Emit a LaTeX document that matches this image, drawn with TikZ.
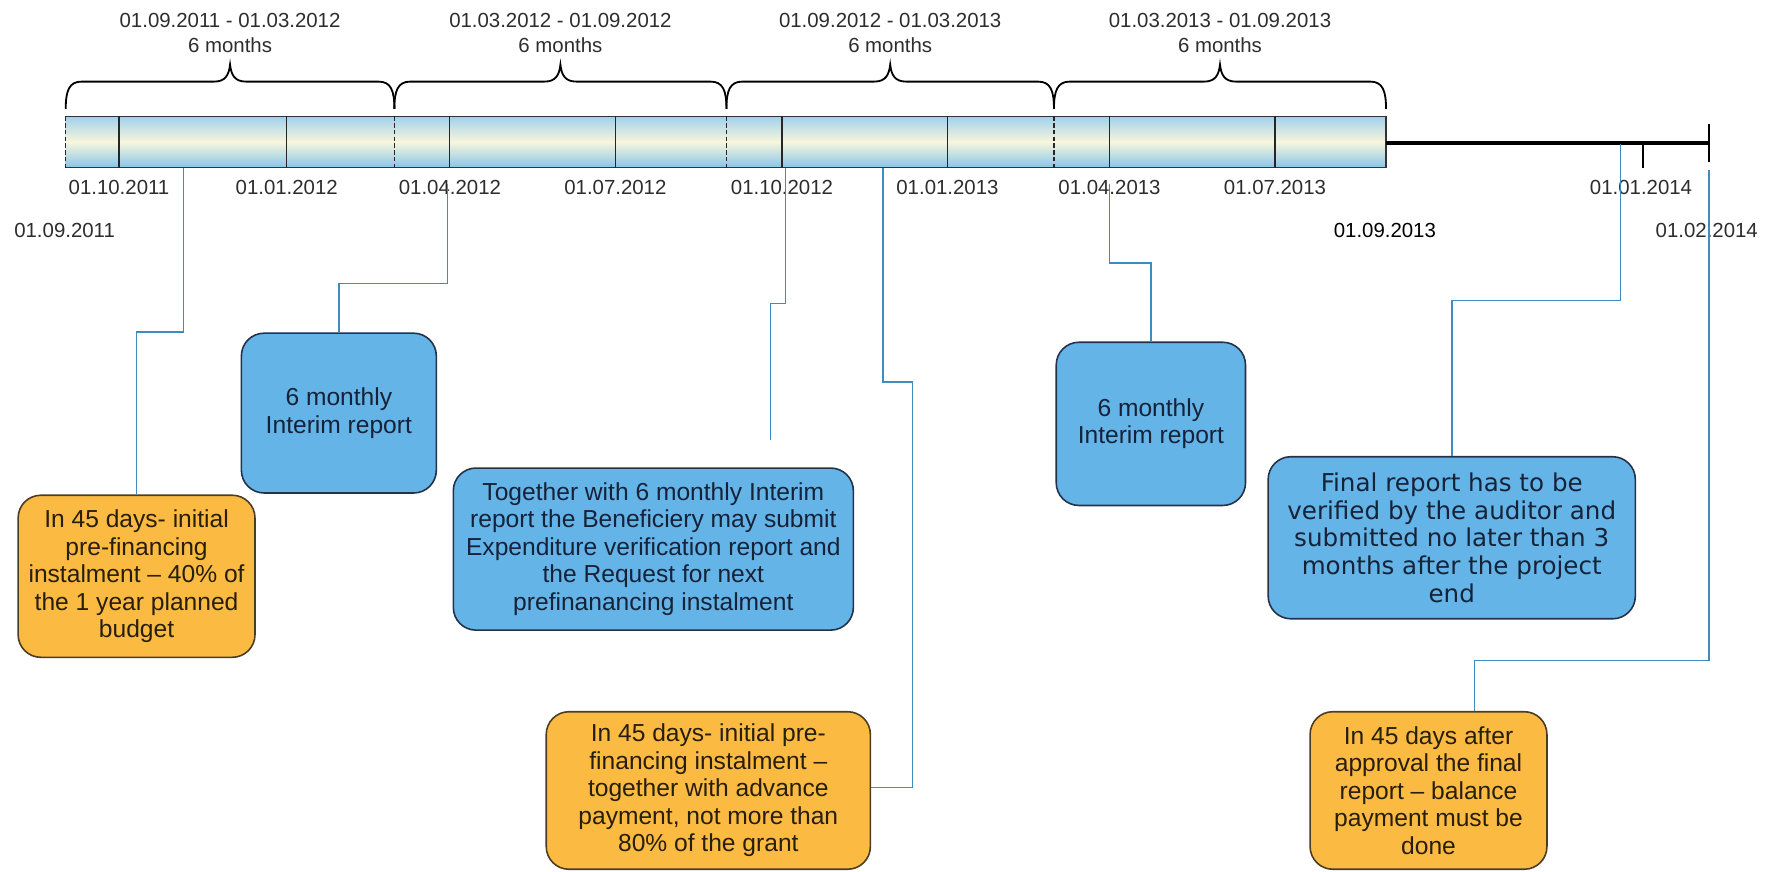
\documentclass[tikz,border=0pt]{standalone}
\usepackage{fontspec}
\setmainfont{Liberation Sans}
\newfontfamily\dvsfont{DejaVu Sans}
\usetikzlibrary{calc}
\definecolor{boxblue}{RGB}{100,180,232}
\definecolor{boxorange}{RGB}{251,187,66}
\definecolor{blueedge}{RGB}{35,50,75}
\definecolor{orangeedge}{RGB}{75,60,35}
\definecolor{conncol}{RGB}{62,140,192}
\definecolor{bartop}{RGB}{160,208,236}
\definecolor{barmid}{RGB}{248,246,220}
\definecolor{barbot}{RGB}{135,196,234}
\definecolor{bluetext}{RGB}{22,34,56}
\definecolor{orangetext}{RGB}{40,30,12}
\definecolor{datetext}{RGB}{45,45,45}
\newcommand{\tlbrace}[2]{%
  \draw[bracestyle] (#1,96) .. controls (#1,80) and ({#1+3},72) .. ({#1+14},72)
    -- ({(#1+#2)/2-14},72) .. controls ({(#1+#2)/2-4},72) and ({(#1+#2)/2-1},66) .. ({(#1+#2)/2},57)
    .. controls ({(#1+#2)/2+1},66) and ({(#1+#2)/2+4},72) .. ({(#1+#2)/2+14},72)
    -- ({#2-14},72) .. controls ({#2-3},72) and (#2,80) .. (#2,96);}
\begin{document}
\begin{tikzpicture}[x=1pt,y=-1pt,
  boxfont/.style={font=\fontsize{21.7}{24.3}\selectfont},
  bluebox/.style={draw=blueedge, fill=boxblue, line width=1.4pt, rounded corners=20pt,
    text=bluetext, align=center, inner sep=0pt, boxfont},
  orangebox/.style={draw=orangeedge, fill=boxorange, line width=1.4pt, rounded corners=20pt,
    text=orangetext, align=center, inner sep=0pt, boxfont},
  datelbl/.style={font=\fontsize{18}{22}\selectfont, text=datetext, inner sep=0pt, align=center},
  conn/.style={draw=conncol, line width=1.3pt},
  bracestyle/.style={draw=black, line width=1.6pt},
  divider/.style={draw=black!85, line width=1pt},
  dashdiv/.style={divider, dash pattern=on 4pt off 2pt}]
\useasboundingbox (0,0) rectangle (1568,769);

% braces and period labels
\tlbrace{58}{348}
\tlbrace{348}{641}
\tlbrace{641}{930}
\tlbrace{930}{1223}
\node[datelbl] (p1) at (203,29) {01.09.2011 - 01.03.2012\\6 months};
\node[datelbl] (p2) at (494.5,29) {01.03.2012 - 01.09.2012\\6 months};
\node[datelbl] (p3) at (785.5,29) {01.09.2012 - 01.03.2013\\6 months};
\node[datelbl] (p4) at (1076.5,29) {01.03.2013 - 01.09.2013\\6 months};

% timeline bar
\shade[top color=bartop, bottom color=barbot, middle color=barmid] (58,102.5) rectangle (1223,148);
\draw[black!80, line width=1pt] (58,102.5) -- (1223,102.5) -- (1223,148) -- (58,148);
\draw[dashdiv] (58,102.5) -- (58,148);
\foreach \x in {105,253,397,543,690,836,979,1125} \draw[divider] (\x,102.5) -- (\x,148);
\foreach \x in {348,641,930} \draw[dashdiv] (\x,102.5) -- (\x,148);
\draw[line width=3.5pt] (1223,126) -- (1508,126);
\draw[line width=1.6pt] (1508,109) -- (1508,143);
\draw[line width=1.6pt] (1450,126) -- (1450,148);

% date labels
\node[datelbl] (d1) at (105,165) {01.10.2011};
\node[datelbl] (d2) at (253,165) {01.01.2012};
\node[datelbl] (d3) at (397,165) {01.04.2012};
\node[datelbl] (d4) at (543,165) {01.07.2012};
\node[datelbl] (d5) at (690,165) {01.10.2012};
\node[datelbl] (d6) at (836,165) {01.01.2013};
\node[datelbl] (d7) at (979,165) {01.04.2013};
\node[datelbl] (d8) at (1125,165) {01.07.2013};
\node[datelbl] (d9) at (1448,165) {01.01.2014};
\node[datelbl] (d0) at (57,203) {01.09.2011};
\node[datelbl, text=black] (d10) at (1222,203) {01.09.2013};
\node[datelbl] (d11) at (1506,203) {01.02.2014};

% boxes
\node[orangebox, minimum width=209pt, minimum height=143pt] (box1) at (120.5,508.5)
  {In 45 days- initial\\pre-financing\\instalment -- 40\% of\\the 1 year planned\\budget};
\node[bluebox, minimum width=172pt, minimum height=141pt] (box2) at (299,364.5)
  {6 monthly\\Interim report};
\node[bluebox, minimum width=353pt, minimum height=143pt] (box3) at (576.5,484.5)
  {Together with 6 monthly Interim\\report the Beneficiery may submit\\Expenditure verification report and\\the Request for next\\prefinanancing instalment};
\node[orangebox, minimum width=286pt, minimum height=139pt] (box4) at (625,697.5)
  {In 45 days- initial pre-\\financing instalment --\\together with advance\\payment, not more than\\80\% of the grant};
\node[bluebox, minimum width=167pt, minimum height=144pt] (box5) at (1015.5,374)
  {6 monthly\\Interim report};
\node[bluebox, font=\dvsfont\fontsize{21.7}{24.3}\selectfont, minimum width=324pt, minimum height=143pt] (box6) at (1281,474.5)
  {Final report has to be\\verified by the auditor and\\submitted no later than 3\\months after the project\\end};
\node[orangebox, minimum width=209pt, minimum height=139pt] (box7) at (1260.5,697.5)
  {In 45 days after\\approval the final\\report -- balance\\payment must be\\done};

% connectors
\coordinate (s1) at (162,148);  \coordinate (k1) at (162,293);
\coordinate (s2) at (395,162);  \coordinate (k2) at (395,250);
\coordinate (s3) at (693,148);  \coordinate (k3) at (693,268); \coordinate (e3) at (680,388);
\coordinate (s4) at (779,148);  \coordinate (k4) at (779,337); \coordinate (k4b) at (805,695);
\coordinate (s5) at (979,162);  \coordinate (k5) at (979,232);
\coordinate (s6) at (1430,127); \coordinate (k6) at (1430,265);
\coordinate (s7) at (1508,150); \coordinate (k7) at (1508,583); \coordinate (k7b) at (1301,583);
\draw[conn] (s1) -- (k1) -| (box1.north);
\draw[conn] (s2) -- (k2) -| (box2.north);
\draw[conn] (s3) -- (k3) -| (e3);
\draw[conn] (s4) -- (k4) -| (k4b) -- (box4.east |- k4b);
\draw[conn] (s5) -- (k5) -| (box5.north);
\draw[conn] (s6) -- (k6) -| (box6.north);
\draw[conn] (s7) -- (k7) -- (k7b) -- (k7b |- box7.north);
\end{tikzpicture}
\end{document}
